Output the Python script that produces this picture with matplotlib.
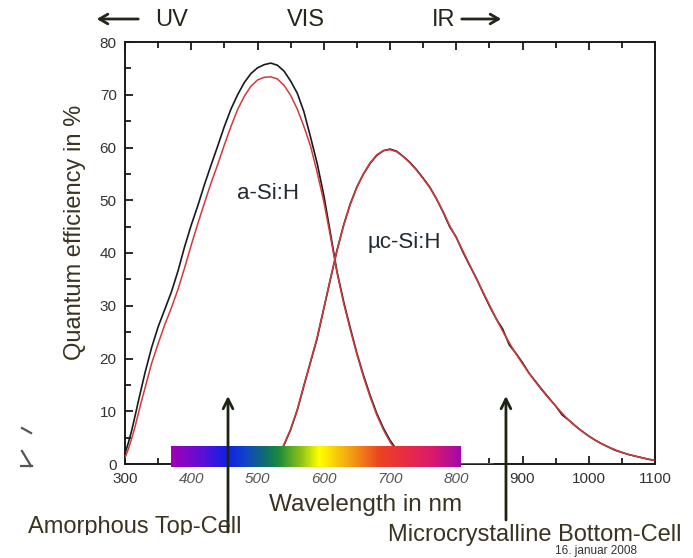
import numpy as np
import matplotlib
matplotlib.use("Agg")
import matplotlib.pyplot as plt
from matplotlib.colors import LinearSegmentedColormap
from matplotlib.patches import Rectangle
from matplotlib.lines import Line2D

plt.rcParams['font.family'] = ['Liberation Sans', 'DejaVu Sans']

# ---------------- data ----------------
asi_black_wl = [300, 305, 310, 315, 320, 325, 330, 340, 350, 360, 370, 380, 390, 400, 410, 420, 430,
                440, 450, 460, 470, 480, 490, 500, 510, 520, 530, 540, 550, 560, 570, 580, 590, 600,
                610, 620, 630, 640, 650, 660, 670, 680, 690, 700, 710, 720, 730, 740]
asi_black_qe = [2.0, 4.0, 6.3, 9.0, 11.8, 14.5, 17.2, 22.0, 26.0, 29.3, 32.6, 36.6, 41.2, 45.3, 49.0,
                53.0, 56.7, 60.3, 64.0, 67.3, 70.0, 72.3, 74.0, 75.1, 75.7, 76.0, 75.6, 74.5, 72.6,
                70.3, 66.8, 62.0, 57.0, 51.0, 43.8, 36.5, 30.8, 25.8, 21.0, 16.8, 13.0, 9.6, 6.8, 4.5,
                2.7, 1.3, 0.4, 0.0]

asi_red_wl = [300, 305, 310, 315, 320, 325, 330, 340, 350, 360, 370, 380, 390, 400, 410, 420, 430,
              440, 450, 460, 470, 480, 490, 500, 510, 520, 530, 540, 550, 560, 570, 580, 590, 600,
              610, 620, 630, 640, 650, 660, 670, 680, 690, 700, 710, 720, 730, 740, 855]
asi_red_qe = [1.2, 2.8, 4.8, 7.0, 9.5, 12.0, 14.3, 19.0, 22.8, 26.4, 29.6, 33.1, 37.2, 41.5, 45.6,
              49.5, 53.3, 56.8, 60.5, 64.0, 67.2, 69.7, 71.6, 72.8, 73.3, 73.4, 73.0, 71.8, 69.9,
              67.3, 64.0, 60.3, 55.3, 49.8, 43.2, 36.3, 30.5, 25.5, 20.8, 16.5, 12.7, 9.3, 6.5, 4.2,
              2.4, 1.0, 0.3, 0.0, 0.0]

uc_black_wl = [520, 530, 540, 550, 560, 570, 580, 590, 600, 610, 620, 630, 640, 650, 660, 670, 680,
               690, 700, 710, 720, 730, 740, 750, 760, 770, 780, 790, 800, 810, 820, 830, 840, 850,
               860, 870, 880, 890, 900, 910, 920, 930, 940, 950, 960, 970, 980, 990, 1000, 1010,
               1020, 1030, 1040, 1050, 1060, 1070, 1080, 1090, 1100]
uc_black_qe = [0.0, 1.0, 3.6, 6.5, 10.2, 14.8, 19.3, 23.8, 29.4, 35.0, 40.5, 45.3, 49.3, 52.5, 55.0,
               57.0, 58.5, 59.4, 59.7, 59.3, 58.3, 57.2, 55.8, 54.2, 52.5, 50.3, 47.8, 45.0, 43.0,
               40.2, 37.7, 35.3, 32.6, 30.0, 27.6, 25.6, 22.6, 21.0, 19.2, 17.2, 15.6, 14.0, 12.5,
               11.0, 9.3, 8.3, 7.2, 6.2, 5.3, 4.5, 3.8, 3.2, 2.6, 2.2, 1.8, 1.5, 1.2, 0.9, 0.7]

uc_red_wl = uc_black_wl
uc_red_qe = [0.0, 1.1, 3.7, 6.6, 10.3, 14.9, 19.4, 24.0, 29.5, 35.1, 40.5, 45.2, 49.2, 52.5, 55.0,
             57.1, 58.6, 59.4, 59.6, 59.2, 58.3, 57.1, 55.7, 54.1, 52.4, 50.3, 47.9, 45.2, 42.9,
             40.4, 37.8, 35.2, 32.7, 30.2, 27.6, 25.2, 23.0, 20.9, 19.0, 17.2, 15.5, 13.9, 12.4,
             11.0, 9.6, 8.3, 7.2, 6.2, 5.3, 4.5, 3.8, 3.2, 2.7, 2.2, 1.8, 1.5, 1.2, 0.9, 0.7]

x_ticks = [300, 400, 500, 600, 700, 800, 900, 1000, 1100]
y_ticks = [0, 10, 20, 30, 40, 50, 60, 70, 80]
spectrum_range = (369, 806)

# ---------------- figure ----------------
W, H = 693, 558
fig = plt.figure(figsize=(W / 100, H / 100), dpi=100)
ax = fig.add_axes([125 / W, 1 - 464 / H, (655 - 125) / W, (464 - 42) / H])

def fp(x, y):
    return (x / W, 1 - y / H)

black = '#1a1a1a'
red = '#d23a3a'

ax.plot(asi_black_wl, asi_black_qe, color=black, lw=1.2, zorder=4)
ax.plot(asi_red_wl, asi_red_qe, color=red, lw=1.1, zorder=5)
ax.plot(uc_black_wl, uc_black_qe, color=black, lw=1.2, zorder=4)
ax.plot(uc_red_wl, uc_red_qe, color=red, lw=1.1, zorder=5)

# spectrum bar
stops = [(0.00, '#a000b8'), (0.11, '#5a10d8'), (0.19, '#1020e6'), (0.25, '#1040d0'),
         (0.33, '#107068'), (0.37, '#1a8a3c'), (0.45, '#90c418'), (0.51, '#ffff00'),
         (0.61, '#f5a812'), (0.72, '#ea4422'), (0.82, '#e82a48'), (0.91, '#d81870'),
         (1.00, '#a408ac')]
cmap = LinearSegmentedColormap.from_list('spec', stops)
grad = np.linspace(0, 1, 512).reshape(1, -1)
ax.imshow(grad, cmap=cmap, aspect='auto', extent=(spectrum_range[0], spectrum_range[1], -0.5, 3.45),
          zorder=6, clip_on=False, interpolation='bilinear')

ax.set_xlim(300, 1100)
ax.set_ylim(0, 80)
ax.set_xticks(x_ticks)
ax.set_xticks(np.arange(350, 1100, 100), minor=True)
ax.set_yticks(y_ticks)
ax.set_yticks(np.arange(5, 80, 10), minor=True)
ax.set_xticklabels([str(v) for v in x_ticks])

ax.tick_params(which='both', direction='in', top=True, right=False, width=1.3, colors=black,
               labelsize=11, pad=6)
ax.tick_params(which='major', length=6)
ax.tick_params(which='minor', length=4)
for lab in ax.get_xticklabels() + ax.get_yticklabels():
    lab.set_color('#333333')
for lab, v in zip(ax.get_xticklabels(), x_ticks):
    if 400 <= v <= 800:
        lab.set_fontstyle('italic')
        lab.set_color('#555555')
for sp in ax.spines.values():
    sp.set_linewidth(1.4)
    sp.set_color(black)

# curve labels (data coords: wavelength, QE)
txtc = '#1f2a33'
ax.text(516, 51.3, 'a-Si:H', fontsize=16, color=txtc, ha='center', va='center', zorder=7)
ax.text(722, 41.9, 'µc-Si:H', fontsize=16, color=txtc, ha='center', va='center', zorder=7)

# axis labels
labc = '#3a3322'
fig.text(*fp(75, 232), 'Quantum efficiency in %', rotation=90, fontsize=17, color=labc,
         ha='center', va='center')
fig.text(*fp(366, 505), 'Wavelength in nm', fontsize=17.5, color=labc, ha='center', va='center')

# top UV/VIS/IR
topc = '#25261a'
fig.text(*fp(172, 20), 'UV', fontsize=17, color=topc, ha='center', va='center')
fig.text(*fp(306, 20), 'VIS', fontsize=17, color=topc, ha='center', va='center')
fig.text(*fp(444, 20), 'IR', fontsize=17, color=topc, ha='center', va='center')
ax.annotate('', xy=fp(94, 19), xytext=fp(141, 19), xycoords='figure fraction',
            textcoords='figure fraction',
            arrowprops=dict(arrowstyle='->,head_length=0.6,head_width=0.35', lw=2, color=topc))
ax.annotate('', xy=fp(504, 19), xytext=fp(459, 19), xycoords='figure fraction',
            textcoords='figure fraction',
            arrowprops=dict(arrowstyle='->,head_length=0.6,head_width=0.35', lw=2, color=topc))

# vertical arrows
arc = '#1e2414'
ax.annotate('', xy=(455.5, 12.9), xytext=fp(228, 532), xycoords='data',
            textcoords='figure fraction', annotation_clip=False,
            arrowprops=dict(arrowstyle='->,head_length=0.7,head_width=0.35', lw=2, color=arc,
                            shrinkA=0, shrinkB=0), zorder=8)
ax.annotate('', xy=(875, 12.9), xytext=fp(506, 520), xycoords='data',
            textcoords='figure fraction', annotation_clip=False,
            arrowprops=dict(arrowstyle='->,head_length=0.7,head_width=0.35', lw=2, color=arc,
                            shrinkA=0, shrinkB=0), zorder=8)

# small leftover marks at the left edge
for (x0, y0, x1, y1) in [(22, 428, 31, 433), (22, 451, 31, 466), (21, 466, 32, 466)]:
    a, b = fp(x0, y0)
    c, d = fp(x1, y1)
    fig.add_artist(Line2D([a, c], [b, d], transform=fig.transFigure, color='#555555', lw=1.6))

# bottom labels
fig.text(*fp(28, 527), 'Amorphous Top-Cell', fontsize=17, color=labc, ha='left', va='center')
fig.patches.append(Rectangle(fp(0, 558), 260 / W, 23 / H, transform=fig.transFigure,
                             facecolor='white', edgecolor='none', zorder=10))
fig.text(*fp(388, 535), 'Microcrystalline Bottom-Cell', fontsize=17, color=labc, ha='left',
         va='center')
fig.text(*fp(596, 551), '16. januar 2008', fontsize=8.5, color='#333333', ha='center', va='center')

fig.savefig('out.png', dpi=100)
